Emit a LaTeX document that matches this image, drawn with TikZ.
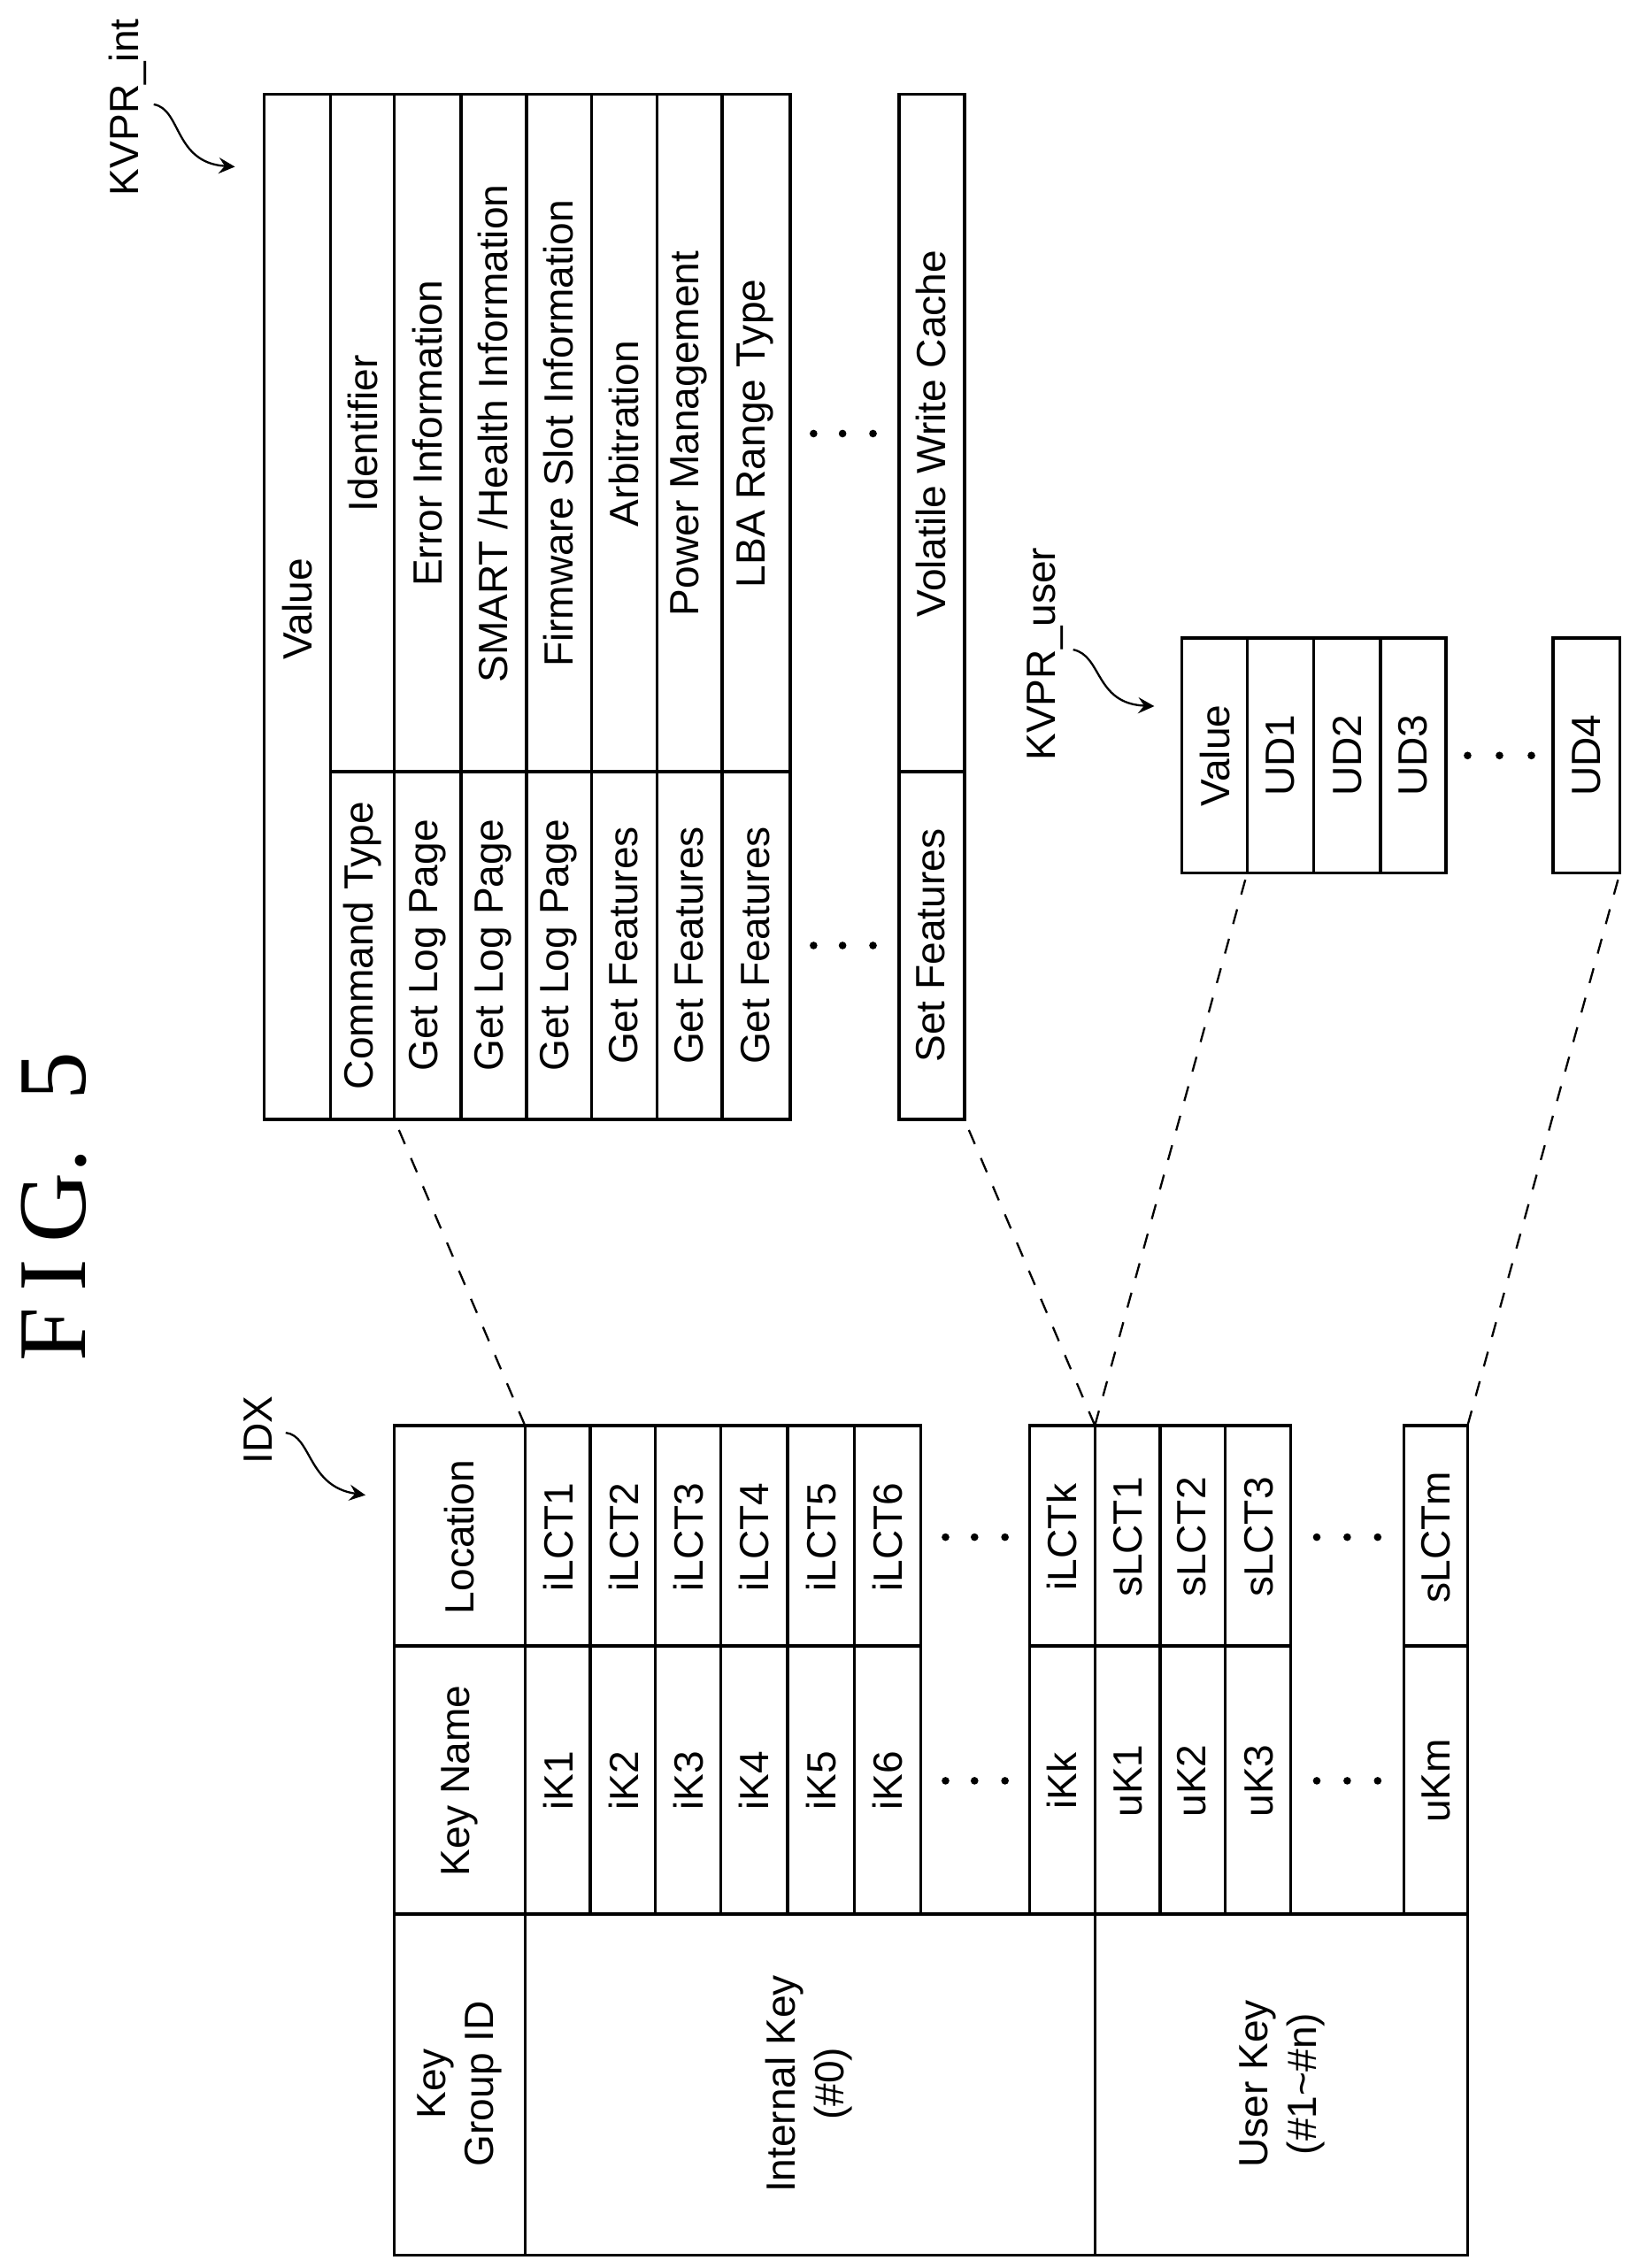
\documentclass[tikz,border=0pt]{standalone}
\usepackage{fontspec}
\setmainfont{Liberation Sans}
\newfontfamily\figfont{Liberation Serif}
\begin{document}
\begin{tikzpicture}[
    x=0.01cm, y=-0.01cm,
    every node/.style={rotate=90, inner sep=0pt, font=\fontsize{8}{9.5}\selectfont},
    box/.style={draw, line width=0.6pt},
    link/.style={draw, dashed, thin},
    tag/.style={draw, ->, >=stealth, thin},
    dot/.style={circle, fill, minimum size=1.5pt, inner sep=0pt}
]
\useasboundingbox (0,0) rectangle (1129,1564);

% Title
\node[font=\figfont\fontsize{19}{21}\selectfont] (fig) at (37,832) {F\,I\,G.\ \ 5};

% IDX table
\draw[box] (272,1320) rectangle (1012,1555);
\draw[box] (272,983) rectangle (635,1320);
\draw[box] (710,983) rectangle (890,1320);
\draw[box] (968,983) rectangle (1012,1320);
\draw[box] (362,983) -- (362,1555);
\draw[box] (755,983) -- (755,1555);
\foreach \x in {407,452,497,543,589,800,845}
    \draw[box] (\x,983) -- (\x,1320);
\draw[box] (272,1135) -- (635,1135) (710,1135) -- (890,1135) (968,1135) -- (1012,1135);

\node[align=center] (kgid) at (317,1437) {Key\\Group ID};
\node (kname) at (317,1228) {Key Name};
\node (kloc) at (317,1060) {Location};
\node[align=center] (intkey) at (558,1437) {Internal Key\\(\#0)};
\node[align=center] (usrkey) at (884,1437) {User Key\\(\#1\textasciitilde\#n)};
\foreach \x/\k/\l in {385/iK1/iLCT1, 430/iK2/iLCT2, 475/iK3/iLCT3, 520/iK4/iLCT4,
                      566/iK5/iLCT5, 612/iK6/iLCT6, 732/iKk/iLCTk,
                      778/uK1/sLCT1, 822/uK2/sLCT2, 868/uK3/sLCT3, 990/uKm/sLCTm} {
    \node (\k) at (\x,1228) {\k};
    \node (\l) at (\x,1060) {\l};
}
\foreach \x in {652,672,693,908,929,950} {
    \node[dot] at (\x,1228) {};
    \node[dot] at (\x,1060) {};
}

% KVPR_int table
\draw[box] (182,65) rectangle (545,772);
\draw[box] (620,65) rectangle (665,772);
\draw[box] (228,65) -- (228,772);
\foreach \x in {272,318,363,408,453,498}
    \draw[box] (\x,65) -- (\x,772);
\draw[box] (228,532) -- (545,532) (620,532) -- (665,532);
\node (val) at (205,420) {Value};
\foreach \x/\c in {250/Command Type, 295/Get Log Page, 340/Get Log Page,
                   385/Get Log Page, 430/Get Features, 475/Get Features,
                   521/Get Features, 642/Set Features}
    \node at (\x,652) {\c};
\foreach \x/\v in {250/Identifier, 295/Error Information, 340/{SMART /Health Information},
                   385/Firmware Slot Information, 430/Arbitration, 475/Power Management,
                   521/LBA Range Type, 642/Volatile Write Cache}
    \node at (\x,299) {\v};
\foreach \x in {561,581,602} {
    \node[dot] at (\x,652) {};
    \node[dot] at (\x,299) {};
}

% KVPR_user table
\draw[box] (815,440) rectangle (997,602);
\draw[box] (1071,440) rectangle (1117,602);
\foreach \x in {860,906,952}
    \draw[box] (\x,440) -- (\x,602);
\foreach \x/\u in {838/Value, 883/UD1, 929/UD2, 974/UD3, 1094/UD4}
    \node at (\x,521) {\u};
\foreach \x in {1012,1034,1056}
    \node[dot] at (\x,521) {};

% Corners for links
\coordinate (idxa) at (362,983);
\coordinate (idxk) at (755,983);
\coordinate (idxm) at (1012,983);
\coordinate (inta) at (272,772);
\coordinate (intk) at (665,772);
\coordinate (usra) at (860,602);
\coordinate (usrm) at (1117,602);
\draw[link] (idxa) -- (inta);
\draw[link] (idxk) -- (intk);
\draw[link] (idxk) -- (usra);
\draw[link] (idxm) -- (usrm);

% Labels
\node (idx) at (178,986) {IDX};
\node (kvint) at (88,74) {KVPR\_int};
\node (kvusr) at (721,451) {KVPR\_user};
\draw[tag] (197,988) .. controls (215,990) and (212,1025) .. (252,1031);
\draw[tag] (106,72) .. controls (125,75) and (120,112) .. (162,115);
\draw[tag] (740,448) .. controls (760,452) and (755,485) .. (796,487);
\end{tikzpicture}
\end{document}
